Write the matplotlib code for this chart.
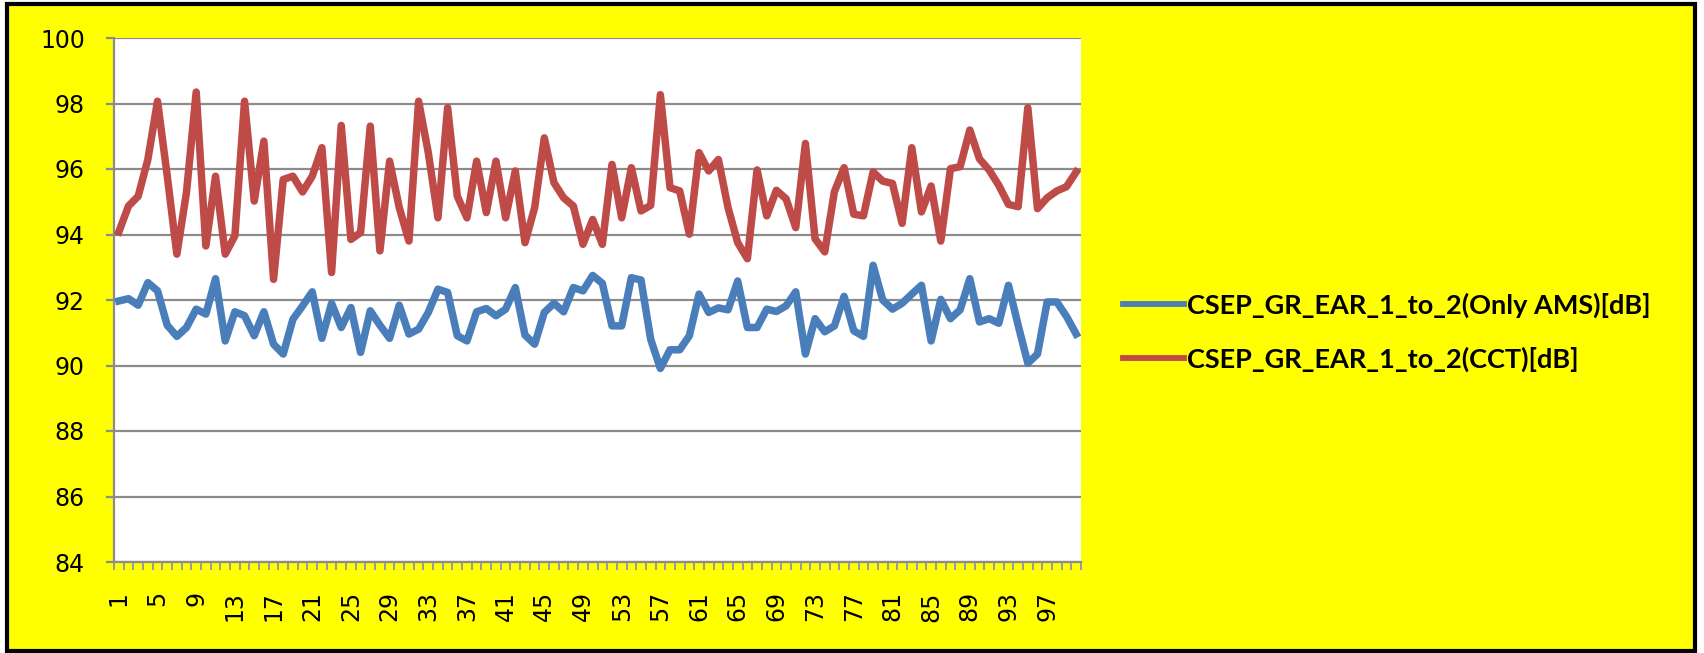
import matplotlib
matplotlib.use("Agg")
import matplotlib.pyplot as plt
import numpy as np
from matplotlib.patches import Rectangle

# CSEP GR EAR 1->2 per sample, two configurations
samples = np.arange(1, 101)

only_ams_db = [
    91.97, 92.04, 91.84, 92.53, 92.28, 91.23, 90.89, 91.16, 91.72, 91.57,
    92.65, 90.75, 91.64, 91.52, 90.91, 91.64, 90.65, 90.35, 91.41, 91.82,
    92.25, 90.83, 91.90, 91.16, 91.77, 90.40, 91.67, 91.23, 90.83, 91.84,
    90.96, 91.11, 91.62, 92.33, 92.23, 90.91, 90.75, 91.64, 91.74, 91.52,
    91.72, 92.38, 90.93, 90.65, 91.62, 91.90, 91.64, 92.38, 92.28, 92.75,
    92.51, 91.21, 91.21, 92.68, 92.61, 90.80, 89.91, 90.48, 90.48, 90.91,
    92.18, 91.62, 91.76, 91.70, 92.58, 91.16, 91.16, 91.72, 91.65, 91.82,
    92.25, 90.35, 91.43, 91.03, 91.21, 92.11, 91.06, 90.89, 93.06, 92.00,
    91.72, 91.90, 92.18, 92.45, 90.75, 92.02, 91.43, 91.70, 92.65, 91.33,
    91.43, 91.29, 92.45, 91.23, 90.07, 90.35, 91.94, 91.94, 91.50, 90.96,
]

cct_db = [
    94.08, 94.87, 95.17, 96.29, 98.07, 95.80, 93.40, 95.30, 98.35, 93.65,
    95.78, 93.40, 93.96, 98.07, 95.02, 96.85, 92.63, 95.68, 95.78, 95.30,
    95.78, 96.65, 92.84, 97.33, 93.85, 94.06, 97.31, 93.50, 96.24, 94.82,
    93.80, 98.07, 96.50, 94.51, 97.87, 95.17, 94.51, 96.24, 94.67, 96.24,
    94.51, 95.94, 93.75, 94.82, 96.95, 95.58, 95.12, 94.87, 93.70, 94.46,
    93.70, 96.14, 94.51, 96.04, 94.72, 94.89, 98.27, 95.43, 95.33, 94.01,
    96.50, 95.94, 96.29, 94.82, 93.75, 93.26, 95.97, 94.57, 95.35, 95.09,
    94.21, 96.78, 93.87, 93.47, 95.31, 96.04, 94.62, 94.57, 95.91, 95.63,
    95.56, 94.34, 96.65, 94.69, 95.48, 93.80, 96.01, 96.07, 97.19, 96.31,
    95.97, 95.50, 94.92, 94.85, 97.87, 94.79, 95.12, 95.33, 95.46, 95.91,
]

series_labels = [
    "CSEP_GR_EAR_1_to_2(Only AMS)[dB]",
    "CSEP_GR_EAR_1_to_2(CCT)[dB]",
]
y_ticks = np.arange(84, 101, 2)
x_ticks = samples[::4]

W, H = 1704, 653
fig = plt.figure(figsize=(W / 100, H / 100), dpi=100, facecolor="white")

# yellow chart area with a black frame, kept behind the axes
fig.patches.append(Rectangle((7 / W, 2 / H), 1688 / W, 647 / H,
                             transform=fig.transFigure, facecolor="#FFFF00",
                             edgecolor="black", linewidth=3, zorder=-10))

left, right = 114, 1081
ax = fig.add_axes([left / W, 1 - 562 / H, (right - left) / W, (562 - 38) / H])
ax.set_facecolor("white")

ax.plot(samples, only_ams_db, color="#4A7EBB", lw=5.4, label=series_labels[0],
        solid_joinstyle="round", zorder=3)
ax.plot(samples, cct_db, color="#BE4B48", lw=5.4, label=series_labels[1],
        solid_joinstyle="round", zorder=3)

ax.set_xlim(0.5, 100.5)
ax.set_ylim(84, 100)
ax.set_yticks(y_ticks)
ax.set_xticks(x_ticks)
ax.set_xticks(np.arange(0.5, 101, 1), minor=True)
ax.grid(axis="y", color="#8C8C8C", lw=1.6, zorder=1)

for side in ("top", "right"):
    ax.spines[side].set_visible(False)
for side in ("left", "bottom"):
    ax.spines[side].set_color("#8C8C8C")
    ax.spines[side].set_linewidth(1.6)

ax.tick_params(axis="y", direction="out", length=6, width=1.6, color="#8C8C8C",
               labelsize=17, pad=15)
ax.tick_params(axis="x", which="major", length=0, labelsize=17, pad=21,
               labelrotation=90)
ax.tick_params(axis="x", which="minor", direction="out", length=5.5, width=1.4,
               color="#9A9A9A")

leg = ax.legend(loc="center left", bbox_to_anchor=(1123 / W, 1 - 332 / H),
                bbox_transform=fig.transFigure, frameon=False,
                prop={"family": ["Lato", "Liberation Sans"],
                      "weight": "bold", "size": 19.5},
                handlelength=2.25, handletextpad=0.12, labelspacing=1.05,
                borderpad=0, borderaxespad=0)
for handle in leg.get_lines():
    handle.set_linewidth(4.2)

fig.savefig("out.png", dpi=100, facecolor=fig.get_facecolor())
